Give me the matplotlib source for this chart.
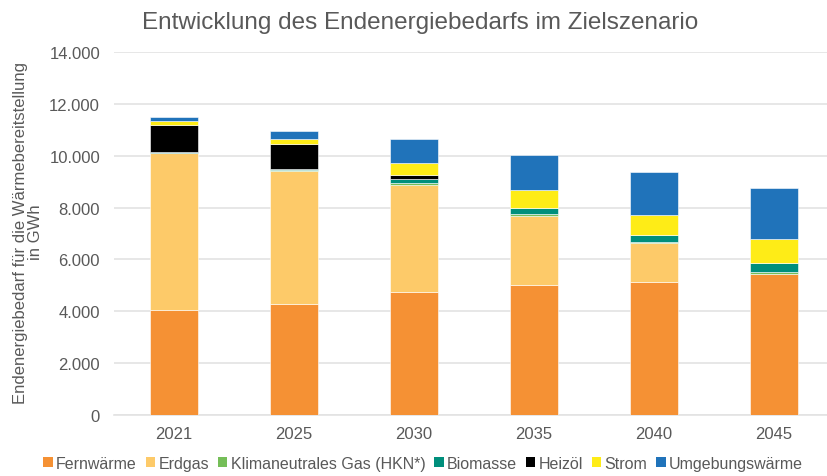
import matplotlib
matplotlib.use("Agg")
import matplotlib.pyplot as plt
from matplotlib.ticker import FuncFormatter
from matplotlib.patches import Patch
import numpy as np

plt.rcParams['font.family'] = ['Liberation Sans', 'DejaVu Sans']

# Jahre und Energieträger (GWh)
jahre = ['2021', '2025', '2030', '2035', '2040', '2045']
fernwaerme = [4060, 4290, 4760, 5010, 5140, 5430]
erdgas = [6030, 5110, 4120, 2680, 1490, 0]
klimagas = [10, 60, 70, 60, 30, 70]
biomasse = [30, 40, 140, 220, 290, 370]
heizoel = [1070, 950, 180, 20, 0, 0]
strom = [130, 190, 460, 680, 760, 910]
umgebung = [150, 300, 900, 1370, 1650, 1960]

namen = ['Fernwärme', 'Erdgas', 'Klimaneutrales Gas (HKN*)', 'Biomasse',
         'Heizöl', 'Strom', 'Umgebungswärme']
farben = ['#F59134', '#FDCA69', '#75BE58', '#008F7C', '#000000', '#FEEC17', '#2073BA']
reihen = [fernwaerme, erdgas, klimagas, biomasse, heizoel, strom, umgebung]

grau = '#595959'

fig = plt.figure(figsize=(8.28, 4.77), dpi=100)
ax = fig.add_axes([114 / 828, 1 - 416 / 477, 714 / 828, 363 / 477])

x = np.arange(len(jahre))
unten = np.zeros(len(jahre))
for werte, farbe in zip(reihen, farben):
    werte = np.array(werte, dtype=float)
    ax.bar(x, werte, width=0.4, bottom=unten, color=farbe,
           edgecolor='#ffffff', linewidth=0.4, zorder=3)
    unten += werte

ax.set_ylim(0, 14000)
ax.set_xlim(-0.5, 5.45)
ax.set_yticks(np.arange(0, 14001, 2000))
ax.yaxis.set_major_formatter(FuncFormatter(lambda v, p: '{:,.0f}'.format(v).replace(',', '.')))
ax.set_xticks(x)
ax.set_xticklabels(jahre)
ax.tick_params(axis='both', length=0, labelsize=12, colors=grau)
ax.tick_params(axis='y', pad=10)
ax.tick_params(axis='x', pad=8)
ax.grid(axis='y', color='#e3e3e3', linewidth=1.2, zorder=0)
for s in ['top', 'right', 'left']:
    ax.spines[s].set_visible(False)
ax.spines['bottom'].set_color('#e3e3e3')
ax.spines['bottom'].set_linewidth(1.2)

ax.set_ylabel('Endenergiebedarf für die Wärmebereitstellung\nin GWh',
              fontsize=12, color=grau, linespacing=1.0)
ax.yaxis.set_label_coords(-0.1, 0.505)

fig.text(0.507, 0.952, 'Entwicklung des Endenergiebedarfs im Zielszenario',
         ha='center', va='center', fontsize=17.5, color=grau)

handles = [Patch(facecolor=f, edgecolor='none') for f in farben]
fig.legend(handles, namen, loc='center', bbox_to_anchor=(0.511, 0.027), ncol=7,
           frameon=False, fontsize=11.5, handlelength=0.6, handleheight=0.6,
           handletextpad=0.2, columnspacing=0.55, labelcolor=grau)

fig.savefig('out.png', dpi=100)
